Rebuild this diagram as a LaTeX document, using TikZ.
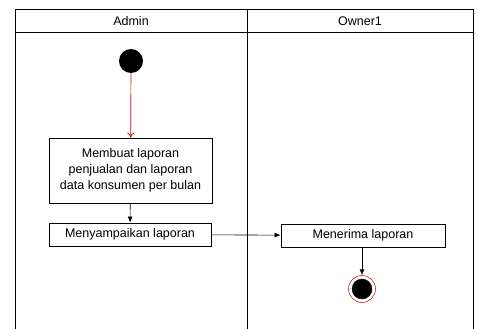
\documentclass[tikz,border=0pt]{standalone}
\usepackage{fontspec}
\setmainfont{Liberation Sans}
\usetikzlibrary{arrows.meta}
\begin{document}
\begin{tikzpicture}[x=1pt, y=-1pt,
  every node/.style = {font=\fontsize{12.5}{16}\selectfont},
  act/.style = {draw, line width=0.9pt, rectangle, inner sep=2pt, align=center},
  startdot/.style = {circle, fill=black, minimum size=24pt, inner sep=0pt},
  endring/.style = {circle, draw=red!80!black, line width=0.5pt, minimum size=27pt, inner sep=0pt},
  enddot/.style = {circle, fill=black, draw=black, minimum size=20pt, inner sep=0pt},
  flow/.style = {-{Latex[length=6pt, width=5pt]}, line width=0.6pt}
  ]
  \useasboundingbox (0,0) rectangle (479,329);
  % swimlanes
  \draw[line width=1pt] (15,335) -- (15,10) -- (473,10) -- (473,335);
  \draw[line width=1pt] (15,33) -- (473,33);
  \draw[line width=0.8pt] (247,10) -- (247,335);
  \node (laneA) at (131,21) {Admin};
  \node (laneB) at (360,21) {Owner1};
  % activities
  \node[startdot] (start) at (131,61) {};
  \node[act, minimum width=163pt, minimum height=65pt] (buat) at (130.5,170.5)
    {Membuat laporan\\penjualan dan laporan\\data konsumen per bulan};
  \node[act, minimum width=162pt, minimum height=23pt] (kirim) at (130,234.5) {Menyampaikan laporan};
  \node[act, minimum width=164pt, minimum height=23pt] (terima) at (363,235.5) {Menerima laporan};
  \node[endring] (end) at (362,289) {};
  \node[enddot] (enddot) at (end) {};
  % flows
  \draw[-{To[length=5pt, width=7pt]}, red!85!black, line width=0.7pt] (start) -- (buat);
  \draw[flow] (buat) -- (kirim);
  \draw[flow] (kirim) -- (terima);
  \draw[flow] (terima.south -| end) -- (end);
\end{tikzpicture}
\end{document}
